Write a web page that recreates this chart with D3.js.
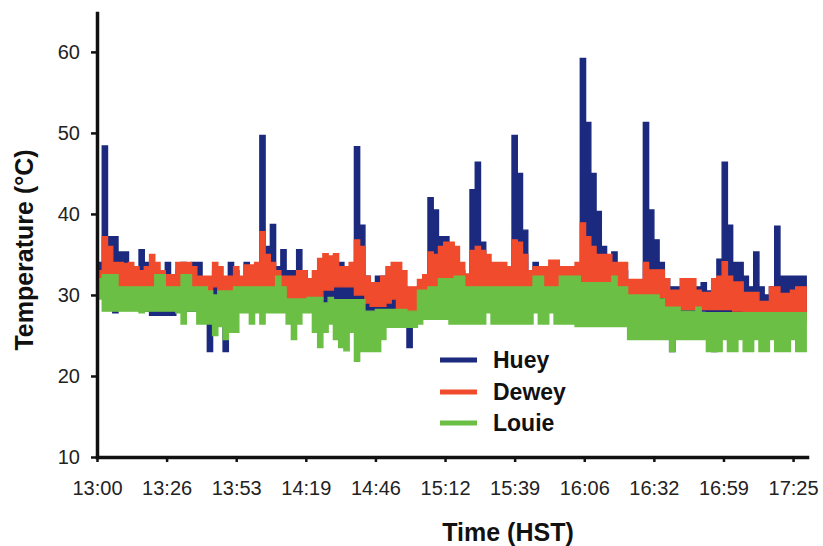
<!DOCTYPE html>
<html><head><meta charset="utf-8">
<script src="https://cdn.jsdelivr.net/npm/d3@7"></script>
<style>
body{margin:0;background:#fff}
svg{display:block}
text{font-family:"Liberation Sans",Arial,Helvetica,sans-serif}
</style>
</head><body>
<svg id="chart" width="823" height="546"></svg>
<script>
// ---- data (minutes after 13:00, one reading band every 2 min) ----
const stepMinutes = 2;
const seriesNames = ["Huey", "Dewey", "Louie"];
const seriesColors = ["#1b2a7e", "#ef4b2c", "#6cbf45"];

const hueyHigh = [34,48.4,37.2,37.2,35.3,35.3,33.5,33,35.6,34,
  33,33,32,34,32.5,33,34,33,34,34,
  32,32,33,32,32,34,33,31,34,32,
  33,49.7,36,38.7,33.5,35.6,33,33,35.6,33,
  31,32,32,33,33,33,34,31,31,48.3,
  38.6,32.3,31,32.3,32.3,31,30,32,30,30,
  30,31,31,42,40.5,37.2,37.2,35,34,33,
  32,43,46.4,36.5,34,33,32,33,32,49.7,
  45,38,33,34,32,32,33,34,33,32,
  32,33,59.2,51.3,45,40.3,36,33,35.3,33,
  33,31,31,31,51.3,40.5,36.8,34,32,31,
  31,31,32,31,31,31.5,30.5,31,34.4,46.4,
  38.6,34,34,32.3,31,35.3,31,30,31,38.5,
  32.3,32.3,32.3,32.3,32.3,30];
const hueyLow = [31,30,30,27.8,29,29,29,29,28,28,
  27.5,27.5,27.5,27.5,27.5,28,28,28,28,28,
  29.5,23,29.5,29,23,29,29,28,29,28,
  28,28,28,28,28,28,28,28,28,28,
  28,28,28,28,28,28,28,28.2,28,28,
  28,28,28,28,28,28,28,28,28,23.5,
  28,28,28,28,28,28,28,28,29,29,
  29,29,29,29,29.8,29.8,29.8,30,29.5,29,
  29,29,29,29,29,30,30,30,30,30,
  30,30,30,30,30,30,30,30,30,30,
  30,29.7,29.7,29.7,29,29,29,29,29,23,
  28,28,28,28,28,28,27.5,23,27.5,27.5,
  27.5,27.5,27.5,27.5,27.5,27.5,27.5,27.8,27.5,27.5,
  27.5,27.5,27.5,27.5,27.5,27.5];

const deweyHigh = [33,37.2,36,34,34,33.9,34,33.5,33,33.5,
  35,34,33,32.5,32.5,34,34,34,33.5,32.3,
  32.3,32.3,34,33.5,32.3,32.3,33.5,32.3,33.7,33.7,
  34,37.8,35,34,33,32.3,32.3,32.3,33,33,
  32,33,34.5,35.1,34.8,35.1,33.5,33.5,34,36.8,
  36,32.3,31.5,31.5,32.3,33.5,34,34,33,31,
  31,31.9,32.5,35.3,35,36,36.5,36.5,36,34,
  32.6,35.5,36,35.5,35,34,34,34,33.5,36.8,
  36.5,35,33,33.5,33.5,33.5,34.3,34.3,33.5,33.5,
  33.5,34,38.9,37.2,36,35,35,35,34,34,
  34,31.9,31.9,31.9,34,33.1,33.1,33.1,32,30.6,
  30.6,32,32,32,30.6,30.3,30.3,32,32.3,34.1,
  32.3,31.6,31.6,30.3,30.3,30.3,29.2,29.2,31,31,
  30.2,30.2,30.6,31,31,30];
const deweyLow = [31,30,30,30,29.5,29.5,29.5,29.5,29.5,29.5,
  29.5,29.5,29.5,29.5,29.5,29.5,29.5,29.5,29.5,29.5,
  29.7,29.7,31,30.5,30,30,30,30,30,30,
  30,30,30,30,30,29.4,29.4,29.4,29.4,29.4,
  29.4,29.4,29.4,30.6,30.6,31,31,31,31,30,
  30,29,28.6,28.6,28.6,29,29.5,28,28,28,
  28,28.5,29,29.5,29.5,30,30,30,30,30,
  30,30,30,30,30,29.8,29.8,30,30,30,
  30,30,30,30,30,30,30,30,30,30,
  30,30.5,30.5,30.5,30.5,30.5,30.5,30.5,30.5,30.5,
  30.5,29.7,29.7,29.7,29.7,29.7,29.7,29.7,28.2,28.2,
  28.2,28.2,28.2,28.2,28.2,28.2,28.2,28.2,28.2,28.2,
  28.2,28,28,27.5,27.5,27.5,27,27,27,27,
  26.6,26.6,26.6,26.6,26.6,26.6];

const louieHigh = [32,32.5,32.5,32.5,31,31,31,31,31,31,
  31,32.5,32.5,31,31,31,32.5,32.5,31,31,
  31,30.5,30,30.5,30.5,30.5,31,31,31,31,
  31,31,31,31,32.3,31,29.5,29.5,29.5,29.5,
  29.7,29.7,29.7,29,29.7,29.4,29.4,29.4,29.4,29.4,
  29.4,28,28,28.2,28.2,28.2,28.2,28.2,28.2,28,
  28,30.6,30.6,31,31,32,32,32,32.3,32.3,
  31,31,31,31,31,31,31,31,31,31,
  31,31,31,32.3,32.3,31,31,31,32.3,32.3,
  32.3,32.3,31.5,31.5,31.5,31.5,31.5,31.5,32.3,31,
  31,30,30,30,30,30,30,29.5,28.5,28.5,
  28.5,28,28,28,28.5,27.8,27.8,27.8,27.8,27.8,
  27.8,27.8,27.8,27.8,27.8,27.8,27.8,27.8,27.8,27.8,
  27.8,27.8,27.8,27.8,27.8,27.8];
const louieLow = [29.5,28,28,28,28,28,28,28,27.8,28,
  28,28,28,28,28,27.8,26.4,28,28,26.4,
  26.4,26.4,25,26.1,24.5,25.4,25.4,27.8,27.8,26.4,
  27.8,26.4,27.8,27.8,27.8,27.8,26.4,24.5,26.4,27.8,
  27.8,25.4,23.5,25.4,26.4,24.5,23.5,23.1,25.4,21.8,
  23,23,23,23,24.5,26,26,26,26,26,
  26,26.4,27,27,27,27,27,26.4,26.4,26.4,
  26.4,26.4,26.4,26.4,27.8,26.4,26.4,26.4,26.4,26.4,
  26.4,26.4,26.4,27.8,26.4,26.4,27.8,26.4,26.4,26.4,
  26.4,26.1,26.1,26.1,26.1,26.1,26.1,26.1,26.1,26.1,
  26.1,24.5,24.5,24.5,24.5,24.5,24.5,24.5,24.5,23,
  24.5,24.5,24.5,24.5,24.5,24.5,23,23,23,24.5,
  23,23,24.5,23,23,24.5,23,23,24.5,23,
  23,23,24.5,23,23,23];

const yTicks = [10, 20, 30, 40, 50, 60];
const xTickMinutes = [0, 26.5, 53, 79.5, 106, 132.5, 159, 185.5, 212, 238.5, 265];
const xTickLabels = ["13:00","13:26","13:53","14:19","14:46","15:12","15:39","16:06","16:32","16:59","17:25"];

// ---- chart ----
const svg = d3.select("#chart");
const x = d3.scaleLinear().domain([0, 270.3]).range([97, 807]);
const y = d3.scaleLinear().domain([10, 64.8]).range([457, 13]);

const bands = [
  {name: seriesNames[0], color: seriesColors[0], hi: hueyHigh, lo: hueyLow},
  {name: seriesNames[1], color: seriesColors[1], hi: deweyHigh, lo: deweyLow},
  {name: seriesNames[2], color: seriesColors[2], hi: louieHigh, lo: louieLow}
];

const area = d3.area()
  .x(d => x(d.t))
  .y0(d => y(d.lo))
  .y1(d => y(d.hi))
  .curve(d3.curveStepAfter);

bands.forEach(b => {
  const pts = b.hi.map((v, i) => ({t: i * stepMinutes, hi: v, lo: b.lo[i]}));
  svg.append("path")
    .datum(pts)
    .attr("d", area)
    .attr("fill", b.color)
    .attr("stroke", b.color)
    .attr("stroke-width", 1.4)
    .attr("stroke-linejoin", "miter");
});

// axes
const yAxis = svg.append("g")
  .attr("transform", "translate(97,0)")
  .call(d3.axisLeft(y).tickValues(yTicks).tickSize(6).tickSizeOuter(0).tickPadding(11));
const xAxis = svg.append("g")
  .attr("transform", "translate(0,457)")
  .call(d3.axisBottom(x).tickValues(xTickMinutes).tickFormat((d, i) => xTickLabels[i])
        .tickSize(5).tickSizeOuter(0).tickPadding(19));

[yAxis, xAxis].forEach(g => {
  g.select(".domain").attr("stroke", "#111").attr("stroke-width", 3.5).attr("stroke-linecap", "square");
  g.selectAll(".tick line").attr("stroke", "#111").attr("stroke-width", 2.5);
  g.selectAll(".tick text").attr("fill", "#222").style("font-size", "20px")
    .style("font-family", "'Liberation Sans', Arial, sans-serif");
});

// titles
svg.append("text")
  .attr("transform", "translate(33,250) rotate(-90)")
  .attr("text-anchor", "middle")
  .style("font-size", "25px").style("font-weight", "bold").attr("fill", "#111")
  .text("Temperature (°C)");
svg.append("text")
  .attr("x", 508).attr("y", 541)
  .attr("text-anchor", "middle")
  .style("font-size", "25px").style("font-weight", "bold").attr("fill", "#111")
  .text("Time (HST)");

// legend
const legendY = [360, 392, 423];
bands.forEach((b, i) => {
  svg.append("line")
    .attr("x1", 440).attr("x2", 477)
    .attr("y1", legendY[i]).attr("y2", legendY[i])
    .attr("stroke", b.color).attr("stroke-width", 5);
  svg.append("text")
    .attr("x", 493).attr("y", legendY[i] + 8)
    .style("font-size", "23px").style("font-weight", "bold").attr("fill", "#111")
    .text(b.name);
});
</script>
</body></html>
